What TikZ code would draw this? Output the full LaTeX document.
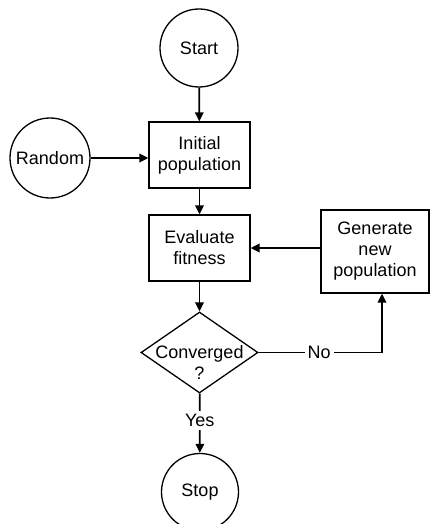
\documentclass[tikz,border=0pt]{standalone}
\usepackage{fontspec}
\setmainfont{Liberation Sans}
\usetikzlibrary{shapes.geometric,arrows.meta}

\tikzset{
  term/.style={draw, circle, line width=1.3pt, minimum size=78pt, inner sep=0pt},
  proc/.style={draw, rectangle, line width=1.3pt, minimum width=101pt, minimum height=66pt, align=center, inner sep=0pt},
  decide/.style={draw, diamond, line width=1.3pt, minimum width=117pt, minimum height=81pt, inner sep=0pt},
  flow/.style={line width=1.8pt, -{Triangle[length=9pt,width=8.5pt]}},
  lbl/.style={fill=white, inner sep=3pt}
}

\begin{document}
\begin{tikzpicture}[x=1pt, y=1pt, font=\fontsize{18}{21}\selectfont]
                \useasboundingbox (0,0) rectangle (430,-524);
                \node[term] (start) at (199,-48) {Start};
                \node[term, minimum size=80pt] (rand) at (50,-158) {Random};
                \node[proc] (init) at (199.5,-155) {Initial\\population};
                \node[proc] (eval) at (199.5,-248) {Evaluate\\fitness};
                \node[proc, minimum width=108pt, minimum height=83pt] (gen) at (375,-251.5) {Generate\\new\\population};
                \node[decide, label={[align=center, yshift=-10pt]center:Converged\\?}] (conv) at (199.5,-352.5) {};
                \node[term, minimum size=77pt] (stop) at (200,-492) {Stop};
                \coordinate (genin) at ([xshift=7pt]gen.south);
                % arrows
                \draw[flow] (start) -- (init);
                \draw[flow] (rand.east) -- (rand.east -| init.west);
                \draw[flow] (init) -- (eval);
                \draw[flow] (eval.east -| gen.west) -- (eval.east);
                \draw[flow] (eval) -- (conv);
                \draw[flow] (conv.east) -- node[lbl, pos=0.49] {No} (conv.east -| genin) -- (genin);
                \draw[flow] (conv) -- node[lbl, pos=0.45] {Yes} (stop);
            \end{tikzpicture}
\end{document}
